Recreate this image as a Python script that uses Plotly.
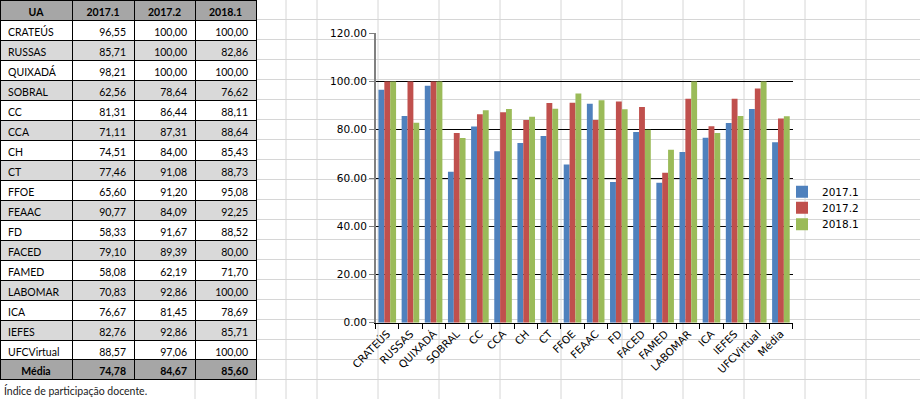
import plotly.graph_objects as go

# ---------------- data ----------------
categories = ["CRATEÚS", "RUSSAS", "QUIXADÁ", "SOBRAL", "CC", "CCA", "CH", "CT",
              "FFOE", "FEAAC", "FD", "FACED", "FAMED", "LABOMAR", "ICA", "IEFES",
              "UFCVirtual", "Média"]
s2017_1 = [96.55, 85.71, 98.21, 62.56, 81.31, 71.11, 74.51, 77.46, 65.60, 90.77,
           58.33, 79.10, 58.08, 70.83, 76.67, 82.76, 88.57, 74.78]
s2017_2 = [100.00, 100.00, 100.00, 78.64, 86.44, 87.31, 84.00, 91.08, 91.20, 84.09,
           91.67, 89.39, 62.19, 92.86, 81.45, 92.86, 97.06, 84.67]
s2018_1 = [100.00, 82.86, 100.00, 76.62, 88.11, 88.64, 85.43, 88.73, 95.08, 92.25,
           88.52, 80.00, 71.70, 100.00, 78.69, 85.71, 100.00, 85.60]
series_names = ["2017.1", "2017.2", "2018.1"]
header_first = "UA"
caption = "Índice de participação docente."

# ---------------- styles ----------------
W, H = 920, 399
colors = ["#4F81BD", "#C0504D", "#9BBB59"]
TABLE_FONT = "Lato"
CHART_FONT = "DejaVu Sans"
SHEET_GRID = "#D6D6D6"
ROW_H = 20
DARK_FILL = "#A6A6A6"
ALT_FILL = "#D9D9D9"


def px_x(x):
    return x / W


def px_y(y):
    return 1 - y / H


series = [s2017_1, s2017_2, s2018_1]
n = len(categories)


def fmt(v):
    return f"{v:.2f}".replace(".", ",")


body_n = n - 1  # rows of units; the last row (average) is drawn as its own bold band
row_fill = [(ALT_FILL if i % 2 else "#FFFFFF") for i in range(body_n)]

fig = go.Figure()

# ---------------- spreadsheet grid (background) ----------------
shapes = []
first_row = 19.5
for k in range(19):
    y = first_row + ROW_H * k
    shapes.append(dict(type="line", xref="paper", yref="paper", x0=0, x1=1,
                       y0=px_y(y), y1=px_y(y), line=dict(color=SHEET_GRID, width=1),
                       layer="below"))
sheet_cols = [195, 256, 286, 317, 378, 439, 500, 561, 622, 683, 744, 805, 866]
for xc in sheet_cols:
    shapes.append(dict(type="line", xref="paper", yref="paper", x0=px_x(xc), x1=px_x(xc),
                       y0=0, y1=1, line=dict(color=SHEET_GRID, width=1), layer="below"))

table_x = [0, px_x(256)]
col_w = [72, 62, 61, 61]
main_bottom = first_row + ROW_H * body_n  # pixel y where the average row starts

# ---------------- table: header + unit rows ----------------
fig.add_trace(go.Table(
    domain=dict(x=table_x, y=[px_y(main_bottom), 1]),
    columnwidth=col_w,
    header=dict(
        values=[header_first] + series_names,
        fill_color=DARK_FILL,
        line=dict(color="black", width=1),
        align="center",
        height=ROW_H,
        font=dict(family=TABLE_FONT, size=10.5, color="black", weight="bold"),
    ),
    cells=dict(
        values=[categories[:body_n]] + [[fmt(v) for v in s[:body_n]] for s in series],
        fill_color=[row_fill],
        line=dict(color="black", width=1),
        align=["left", "right", "right", "right"],
        height=ROW_H,
        font=dict(family=TABLE_FONT, size=10.5, color="black"),
    ),
))

# ---------------- table: average row (bold) ----------------
fig.add_trace(go.Table(
    domain=dict(x=table_x, y=[0, px_y(main_bottom)]),
    columnwidth=col_w,
    header=dict(
        values=[categories[-1]] + [fmt(s[-1]) for s in series],
        fill_color=DARK_FILL,
        line=dict(color="black", width=1),
        align=["center", "right", "right", "right"],
        height=ROW_H,
        font=dict(family=TABLE_FONT, size=10.5, color="black", weight="bold"),
    ),
    cells=dict(values=[[], [], [], []], line=dict(width=0), fill_color="rgba(0,0,0,0)"),
))

# ---------------- bars ----------------
legend_ids = ["legend", "legend2", "legend3"]
for name, vals, col, lg in zip(series_names, series, colors, legend_ids):
    fig.add_trace(go.Bar(
        x=categories, y=vals, name=name, marker=dict(color=col, line=dict(width=0)),
        legend=lg, showlegend=True,
    ))

legend_centers = [191.7, 207.7, 224.3]
legend_x = 782
legend_common = dict(x=px_x(legend_x), xanchor="left", yanchor="middle",
                     bgcolor="rgba(0,0,0,0)", borderwidth=0, visible=True,
                     font=dict(family=CHART_FONT, size=10.5, color="black"))

fig.update_layout(
    template="none",
    width=W, height=H,
    margin=dict(l=0, r=0, t=0, b=0, autoexpand=False),
    paper_bgcolor="white",
    plot_bgcolor="rgba(0,0,0,0)",
    showlegend=True,
    barmode="group",
    bargap=0.24,
    bargroupgap=0,
    font=dict(family=CHART_FONT, size=10.5, color="black"),
    shapes=shapes,
    xaxis=dict(
        domain=[px_x(375.7), px_x(792.5)],
        type="category", automargin=False,
        tickangle=-45,
        ticks="outside", ticklen=5, tickcolor="black", tickson="boundaries",
        showline=True, linecolor="black", linewidth=1,
        showgrid=False, zeroline=False,
        tickfont=dict(family=CHART_FONT, size=10.5, color="black"),
    ),
    yaxis=dict(
        domain=[px_y(322.7), px_y(33.3)], automargin=False,
        range=[0, 120], dtick=20, tickformat=".2f",
        ticks="outside", ticklen=5, tickcolor="#808080",
        showline=True, linecolor="#808080", linewidth=1.5,
        showgrid=True, gridcolor="black", gridwidth=1,
        zeroline=False,
        tickfont=dict(family=CHART_FONT, size=10.5, color="black"),
    ),
    legend=dict(y=px_y(legend_centers[0]), **legend_common),
    legend2=dict(y=px_y(legend_centers[1]), **legend_common),
    legend3=dict(y=px_y(legend_centers[2]), **legend_common),
    annotations=[dict(
        text=caption, xref="paper", yref="paper", x=px_x(2), y=px_y(390),
        xanchor="left", yanchor="middle", showarrow=False,
        font=dict(family=TABLE_FONT, size=10.5, color="#222222"),
    )],
)

fig.write_html("out.html", config=dict(displayModeBar=False))
